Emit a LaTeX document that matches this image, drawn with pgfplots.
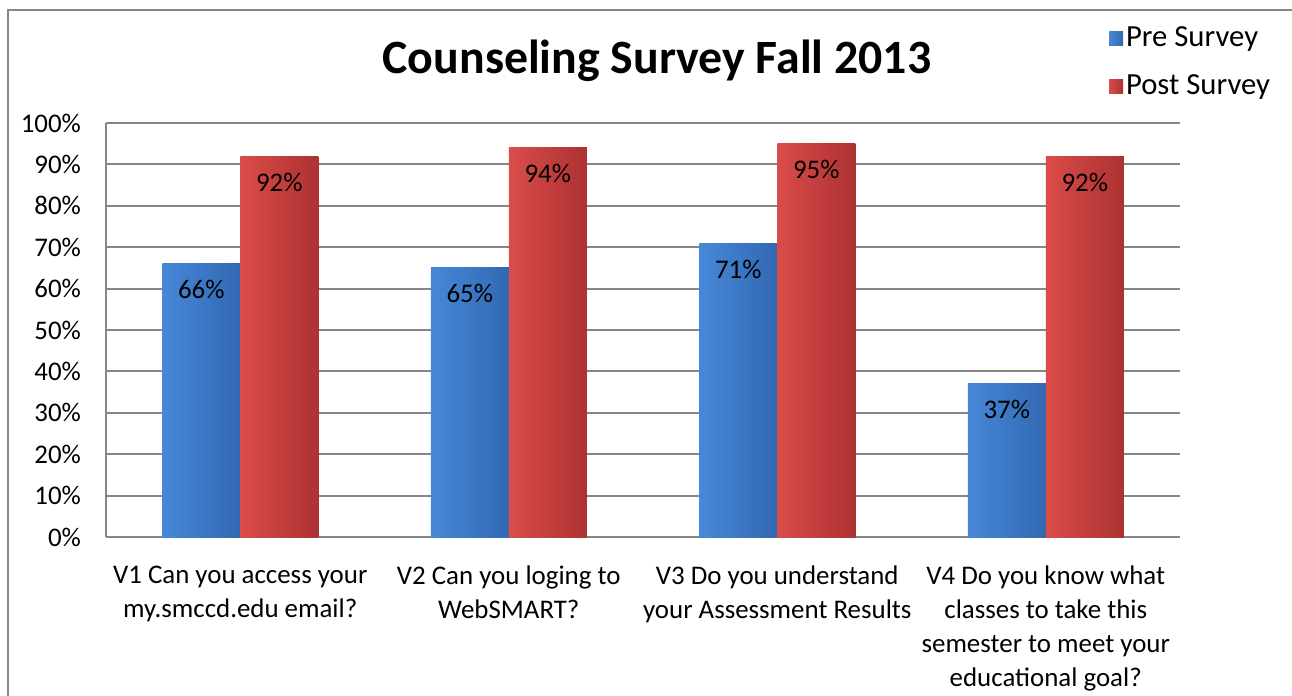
\documentclass[border=0pt]{standalone}
\usepackage{fontspec}
\setmainfont{Carlito}
\usepackage{pgfplots}
\pgfplotsset{compat=1.18}

\definecolor{preL}{RGB}{70,136,216}
\definecolor{preM}{RGB}{62,124,204}
\definecolor{preR}{RGB}{50,104,178}
\definecolor{postL}{RGB}{218,76,73}
\definecolor{postM}{RGB}{205,62,60}
\definecolor{postR}{RGB}{172,50,50}
\definecolor{gridgray}{RGB}{134,134,134}

\pgfplotsset{
  sq legend/.style={
    legend image code/.code={\path[##1,draw=none] (0bp,-3.5bp) rectangle (7bp,3.5bp);}
  },
  pre/.style={draw=none, left color=preL, middle color=preM, right color=preR,
              bar shift=-19.5bp, sq legend},
  post/.style={draw=none, left color=postL, middle color=postM, right color=postR,
               bar shift=19.5bp, sq legend},
}

\begin{document}
\begin{tikzpicture}
  \begin{axis}[
    at={(0,0)}, anchor=south west,
    scale only axis,
    width=537bp, height=207bp,
    ybar=0pt, bar width=39bp,
    xmin=-0.5, xmax=3.5,
    ymin=0, ymax=100,
    xtick={0,1,2,3},
    xticklabels={V1 Can you access your\\my.smccd.edu email?,
                 V2 Can you loging to\\WebSMART?,
                 V3 Do you understand\\your Assessment Results,
                 V4 Do you know what\\classes to take this\\semester to meet your\\educational goal?},
    xticklabel style={align=center, font=\fontsize{13.5}{17}\selectfont, yshift=-11bp},
    ytick={0,10,...,100},
    yticklabel={\pgfmathprintnumber{\tick}\%},
    yticklabel style={font=\fontsize{13.5}{16}\selectfont, xshift=-9bp},
    /pgf/number format/assume math mode=true,
    major tick length=0pt,
    ymajorgrids=true,
    grid style={gridgray, line width=1bp},
    axis x line*=bottom, axis y line*=left,
    axis line style={gridgray, line width=1bp},
    title={Counseling Survey Fall 2013},
    title style={at={(rel axis cs:0.513,1.121)}, anchor=center,
                 font=\bfseries\fontsize{24}{28}\selectfont},
    legend style={at={(rel axis cs:0.928,1.250)}, anchor=north west,
                  draw=none, fill=none, font=\fontsize{15.4}{18}\selectfont,
                  row sep=9.5bp, nodes={inner sep=1.5bp}},
    legend cell align=left,
    sq legend,
    nodes near coords={\pgfmathprintnumber[fixed,precision=0]{\pgfplotspointmeta}\%},
    nodes near coords style={anchor=center, yshift=-13bp, font=\fontsize{13.5}{16}\selectfont, text=black},
  ]
    \addplot[pre]  coordinates {(0,66)};
    \addplot[post] coordinates {(0,92)};
    \addplot[pre, forget plot]  coordinates {(1,65)};
    \addplot[post, forget plot] coordinates {(1,94)};
    \addplot[pre, forget plot]  coordinates {(2,71)};
    \addplot[post, forget plot] coordinates {(2,95)};
    \addplot[pre, forget plot]  coordinates {(3,37)};
    \addplot[post, forget plot] coordinates {(3,92)};
    \legend{Pre Survey, Post Survey}
  \end{axis}
  \draw[gridgray, line width=1bp] (-49bp,-79.5bp) -- (-49bp,263.5bp) -- (593bp,263.5bp);
  \pgfresetboundingbox
  \useasboundingbox (-53bp,-79.5bp) rectangle (593bp,268.5bp);
\end{tikzpicture}
\end{document}
